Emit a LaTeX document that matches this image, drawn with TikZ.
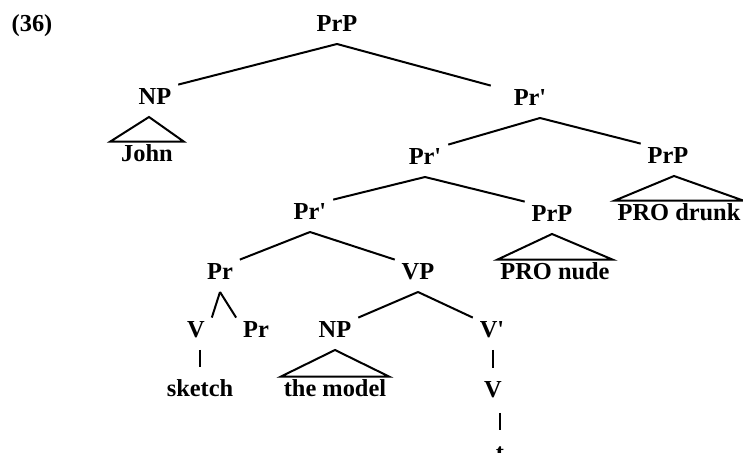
\documentclass[tikz,border=0pt]{standalone}
\usepackage{fontspec}
\setmainfont{Liberation Serif}
\usepackage{tikz}

\begin{document}
\begin{tikzpicture}[x=0.5pt,y=-0.5pt,line width=1pt,
        font=\fontsize{12.2}{14}\selectfont\bfseries,
        every node/.style={anchor=base,inner xsep=3pt,inner ysep=1.5pt,text height=8.2pt,text depth=4pt},
        leaf/.style={inner xsep=1pt}]
    \clip (0,0) rectangle (743,453);

    \node (ex) at (32,32) {(36)};
    \node (prp) at (337,32) {PrP};
    \node (np1) at (155,105) {NP};
    \node[leaf,inner xsep=5pt] (john) at (147,162) {John};
    \node (pr1) at (530,106) {Pr\textquotesingle};
    \node (pr2) at (425,165) {Pr\textquotesingle};
    \node (prp1) at (668,164) {PrP};
    \node[leaf] (drunk) at (679,221) {PRO drunk};
    \node (pr3) at (310,220) {Pr\textquotesingle};
    \node (prp2) at (552,222) {PrP};
    \node[leaf] (nude) at (555,280) {PRO nude};
    \node (pr) at (220,280) {Pr};
    \node (vp) at (418,280) {VP};
    \node (v1) at (196,338) {V};
    \node (pr0) at (256,338) {Pr};
    \node (np2) at (335,338) {NP};
    \node (vbar) at (492,338) {V\textquotesingle};
    \node (sketch) at (200,397) {sketch};
    \node[leaf] (model) at (335,397) {the model};
    \node (v2) at (493,398) {V};
    \node (t) at (500,460) {t};

    % branches
    \draw (prp.south) -- (np1.north east);
    \draw (prp.south) -- ([xshift=-8pt]pr1.north west);
    \draw ([xshift=5pt]pr1.south) -- (pr2.north east);
    \draw ([xshift=5pt]pr1.south) -- (prp1.north west);
    \draw (pr2.south) -- (pr3.north east);
    \draw (pr2.south) -- (prp2.north west);
    \draw (pr3.south) -- (pr.north east);
    \draw (pr3.south) -- (vp.north west);
    \draw (pr.south) -- (v1.north east);
    \draw (pr.south) -- (pr0.north west);
    \draw (vp.south) -- (np2.north east);
    \draw (vp.south) -- (vbar.north west);

    % triangles over unanalysed phrases
    \draw ([xshift=-3pt]np1.south) -- (john.north west) -- (john.north east) -- cycle;
    \draw ([xshift=3pt]prp1.south) -- (drunk.north west) -- (drunk.north east) -- cycle;
    \draw (prp2.south) -- (nude.north west) -- (nude.north east) -- cycle;
    \draw (np2.south) -- (model.north west) -- (model.north east) -- cycle;

    % unary lines
    \draw (sketch.north |- v1.south) -- ([yshift=5pt]sketch.north);
    \draw (v2.north |- vbar.south) -- ([yshift=5pt]v2.north);
    \draw ([yshift=-1.5pt]t.north |- v2.south) -- ([yshift=5pt]t.north);
\end{tikzpicture}
\end{document}
